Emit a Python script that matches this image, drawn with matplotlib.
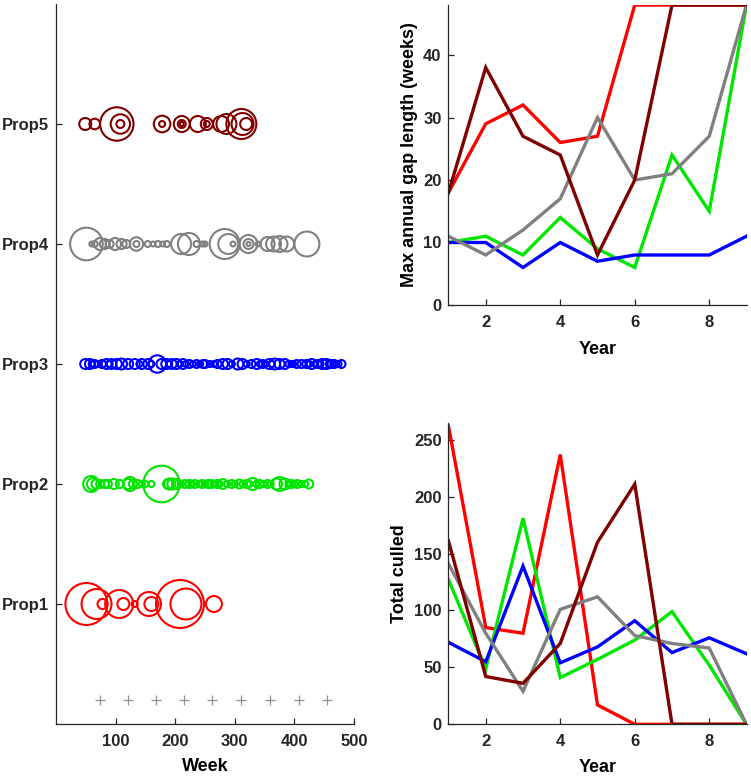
import matplotlib
matplotlib.use("Agg")
import matplotlib.pyplot as plt
import numpy as np

plt.rcParams['font.family'] = ['Liberation Sans', 'DejaVu Sans']
plt.rcParams['font.weight'] = 'bold'

# ---------------- data ----------------
props = ["Prop1", "Prop2", "Prop3", "Prop4", "Prop5"]
colors = ["#ff0000", "#00e600", "#0000ff", "#808080", "#800000"]

# cull events: week of event and cull size (bubble area)
p1_weeks = [51, 68, 78, 106, 113, 132, 156, 160, 208, 218, 265]
p1_cull = [441, 225, 25, 196, 36, 9, 144, 49, 576, 240, 64]

p2_weeks = [59, 62, 67, 74, 82, 87, 97, 107, 121, 124, 129, 137, 144, 150, 160,
            177, 188, 191, 196, 203, 210, 216, 224, 228, 233, 240, 245, 250, 255,
            261, 265, 270, 275, 280, 287, 295, 300, 308, 313, 320, 325, 330, 336,
            342, 348, 355, 360, 370, 375, 384, 390, 395, 400, 405, 412, 418, 424]
p2_cull = [64, 36, 20, 16, 16, 16, 25, 16, 25, 49, 16, 16, 9, 9, 9,
           335, 25, 30, 30, 25, 9, 16, 16, 9, 16, 9, 16, 9, 16,
           16, 9, 16, 9, 25, 9, 16, 9, 20, 9, 16, 9, 36, 9,
           16, 9, 16, 9, 30, 49, 30, 9, 16, 9, 16, 9, 9, 20]

p3_weeks = [49, 57, 60, 65, 70, 77, 85, 90, 93, 102, 110, 121, 132, 140, 144,
            155, 160, 170, 177, 185, 190, 194, 202, 208, 213, 218, 224, 230, 236,
            242, 247, 250, 258, 265, 271, 280, 288, 295, 305, 313, 320, 328, 337,
            342, 347, 352, 358, 362, 367, 375, 384, 390, 395, 398, 404, 412, 420,
            425, 429, 435, 439, 444, 447, 454, 458, 462, 467, 470, 474, 479]
p3_cull = [25, 25, 9, 16, 9, 16, 25, 9, 25, 25, 30, 25, 25, 9, 25,
           25, 9, 76, 25, 25, 9, 25, 25, 9, 25, 9, 16, 9, 16,
           9, 16, 16, 9, 9, 16, 25, 25, 9, 30, 25, 9, 16, 25,
           9, 16, 9, 25, 9, 30, 25, 25, 9, 9, 9, 16, 16, 16,
           9, 25, 9, 16, 9, 25, 25, 9, 16, 16, 9, 9, 16]

p4_weeks = [51, 60, 65, 74, 82, 90, 99, 110, 118, 135, 135, 154, 163, 171, 179,
            186, 210, 223, 236, 246, 250, 283, 289, 297, 323, 323, 323, 339, 355,
            365, 375, 387, 421]
p4_cull = [266, 6, 9, 36, 25, 16, 36, 25, 16, 45, 9, 9, 6, 9, 6,
           9, 100, 121, 9, 6, 6, 225, 100, 6, 81, 25, 4, 6, 49,
           56, 64, 56, 156]

p5_weeks = [49, 65, 102, 108, 108, 178, 178, 211, 211, 211, 238, 253, 253, 277,
            286, 311, 313, 319]
p5_cull = [36, 28, 279, 94, 16, 69, 9, 64, 16, 4, 64, 36, 9, 64,
           100, 225, 121, 36]

year_marks = [74, 120, 167, 214, 262, 311, 359, 407, 455]

years = [1, 2, 3, 4, 5, 6, 7, 8, 9]
gap_p1 = [18, 29, 32, 26, 27, 48, 48, 48, 48]
gap_p2 = [10, 11, 8, 14, 9, 6, 24, 15, 48]
gap_p3 = [10, 10, 6, 10, 7, 8, 8, 8, 11]
gap_p4 = [11, 8, 12, 17, 30, 20, 21, 27, 48]
gap_p5 = [18, 38, 27, 24, 8, 20, 48, 48, 48]

cull_p1 = [262, 85, 80, 237, 17, 0, 0, 0, 0]
cull_p2 = [127, 49, 181, 41, 57, 74, 99, 52, 0]
cull_p3 = [72, 55, 139, 54, 68, 91, 63, 76, 62]
cull_p4 = [141, 80, 29, 101, 112, 78, 71, 67, 0]
cull_p5 = [161, 42, 36, 71, 160, 211, 0, 0, 0]

# ---------------- figure ----------------
W, H = 751, 777
fig = plt.figure(figsize=(W / 100, H / 100), dpi=100)

def frac(x0, y0, x1, y1):
    return [x0 / W, 1 - y1 / H, (x1 - x0) / W, (y1 - y0) / H]

axL = fig.add_axes(frac(56, 4, 354, 724))
axT = fig.add_axes(frac(448.5, 5, 746.5, 305))
axB = fig.add_axes(frac(448.5, 422.7, 746.5, 724.3))

area_scale = 2.07

weeks_all = [p1_weeks, p2_weeks, p3_weeks, p4_weeks, p5_weeks]
culls_all = [p1_cull, p2_cull, p3_cull, p4_cull, p5_cull]
for i, (wk, cl) in enumerate(zip(weeks_all, culls_all)):
    axL.scatter(wk, np.full(len(wk), i + 1), s=np.array(cl) * area_scale,
                facecolors='none', edgecolors=colors[i], linewidths=1.5)
axL.scatter(year_marks, np.full(len(year_marks), 0.2), marker='+', s=60,
            color='#909090', linewidths=0.9)

axL.set_xlim(0, 500)
axL.set_ylim(0, 6)
axL.set_xticks([100, 200, 300, 400, 500])
axL.set_yticks([1, 2, 3, 4, 5])
axL.set_yticklabels(props)
axL.set_xlabel("Week", fontsize=13, fontweight='bold', labelpad=7)

gaps = [gap_p1, gap_p2, gap_p3, gap_p4, gap_p5]
culls = [cull_p1, cull_p2, cull_p3, cull_p4, cull_p5]
for i in range(5):
    axT.plot(years, gaps[i], color=colors[i], lw=2.4, solid_joinstyle='miter')
    axB.plot(years, culls[i], color=colors[i], lw=2.4, solid_joinstyle='miter')

axT.set_xlim(1, 9)
axT.set_ylim(0, 48)
axT.set_xticks([2, 4, 6, 8])
axT.set_yticks([0, 10, 20, 30, 40])
axT.set_xlabel("Year", fontsize=13, fontweight='bold', labelpad=8)
axT.set_ylabel("Max annual gap length (weeks)", fontsize=13, fontweight='bold', labelpad=4)

axB.set_xlim(1, 9)
axB.set_ylim(0, 265)
axB.set_xticks([2, 4, 6, 8])
axB.set_yticks([0, 50, 100, 150, 200, 250])
axB.set_xlabel("Year", fontsize=13, fontweight='bold', labelpad=7)
axB.set_ylabel("Total culled", fontsize=13, fontweight='bold', labelpad=4)

for ax in (axL, axT, axB):
    for sp in ('top', 'right'):
        ax.spines[sp].set_visible(False)
    for sp in ('left', 'bottom'):
        ax.spines[sp].set_color('#262626')
        ax.spines[sp].set_linewidth(0.9)
    ax.tick_params(direction='in', length=4, width=0.9, colors='#262626',
                   labelsize=12)
    ax.tick_params(axis='x', pad=7)
    ax.tick_params(axis='y', pad=5)
    for lab in ax.get_xticklabels() + ax.get_yticklabels():
        lab.set_fontweight('bold')
        lab.set_color('#262626')

fig.savefig("out.png", dpi=100)
